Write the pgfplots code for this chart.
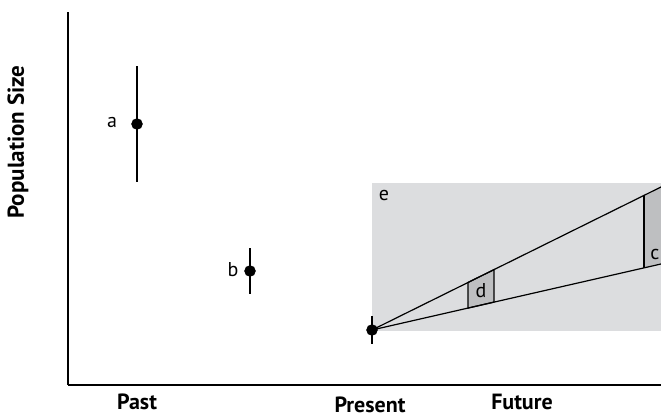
\documentclass[border=0pt]{standalone}
\usepackage{pgfplots}
\pgfplotsset{compat=1.18}
\usepackage{fontspec}
\setmainfont{PT Sans}
\definecolor{bgE}{HTML}{DCDDDF}
\definecolor{trap}{HTML}{BEBFC1}
\begin{document}
\begin{tikzpicture}
\useasboundingbox (-68pt,-34pt) rectangle (593pt,385pt);
\begin{axis}[
  at={(0pt,0pt)}, anchor=origin,
  x=1pt, y=1pt, scale only axis,
  xmin=0, xmax=593, ymin=0, ymax=373,
  axis x line=bottom, axis y line=left,
  axis line style={-, line width=1.5pt},
  xtick=\empty, ytick=\empty,
  clip=false,
]
% region e
\addplot[fill=bgE, draw=none] coordinates {(304,54) (593,54) (593,202) (304,202)} -- cycle;
% trapezoids d and c
\addplot[fill=trap, draw=black, line width=1.2pt] coordinates {(400,76.9) (426,82.9) (426,115.4) (400,102.5)} -- cycle;
\addplot[fill=trap, draw=none] coordinates {(576,117.1) (593,121) (593,198) (576,189.6)} -- cycle;
\addplot[black, line width=1.2pt] coordinates {(576,117.1) (576,189.6)};
% projection lines
\addplot[black, line width=1.2pt] coordinates {(304,55) (593,198)};
\addplot[black, line width=1.2pt] coordinates {(304,55) (593,121)};
% points with error bars
\addplot[only marks, mark=*, mark size=5.5pt, black,
  error bars/.cd, y dir=both, y explicit, error mark=none,
  error bar style={line width=1.4pt}]
  coordinates {
    (69,261) +- (0,58)
    (182,114) +- (0,23)
    (304,55) +- (0,14)
  };
\node[font=\fontsize{20}{20}\selectfont] at (axis cs:44,262) {a};
\node[font=\fontsize{20}{20}\selectfont] at (axis cs:165,115) {b};
\node[font=\fontsize{20}{20}\selectfont] at (axis cs:587,130) {c};
\node[font=\fontsize{20}{20}\selectfont] at (axis cs:413,94) {d};
\node[font=\fontsize{20}{20}\selectfont] at (axis cs:316,189) {e};
\node[font=\bfseries\fontsize{22}{22}\selectfont, anchor=base, inner sep=0pt] at (axis cs:69,-25) {Past};
\node[font=\bfseries\fontsize{22}{22}\selectfont, anchor=base, inner sep=0pt] at (axis cs:302,-27.5) {Present};
\node[font=\bfseries\fontsize{22}{22}\selectfont, anchor=base, inner sep=0pt] at (axis cs:454,-25) {Future};
\node[font=\bfseries\fontsize{23}{23}\selectfont, rotate=90] at (axis cs:-50,243) {Population Size};
\end{axis}
\end{tikzpicture}
\end{document}
